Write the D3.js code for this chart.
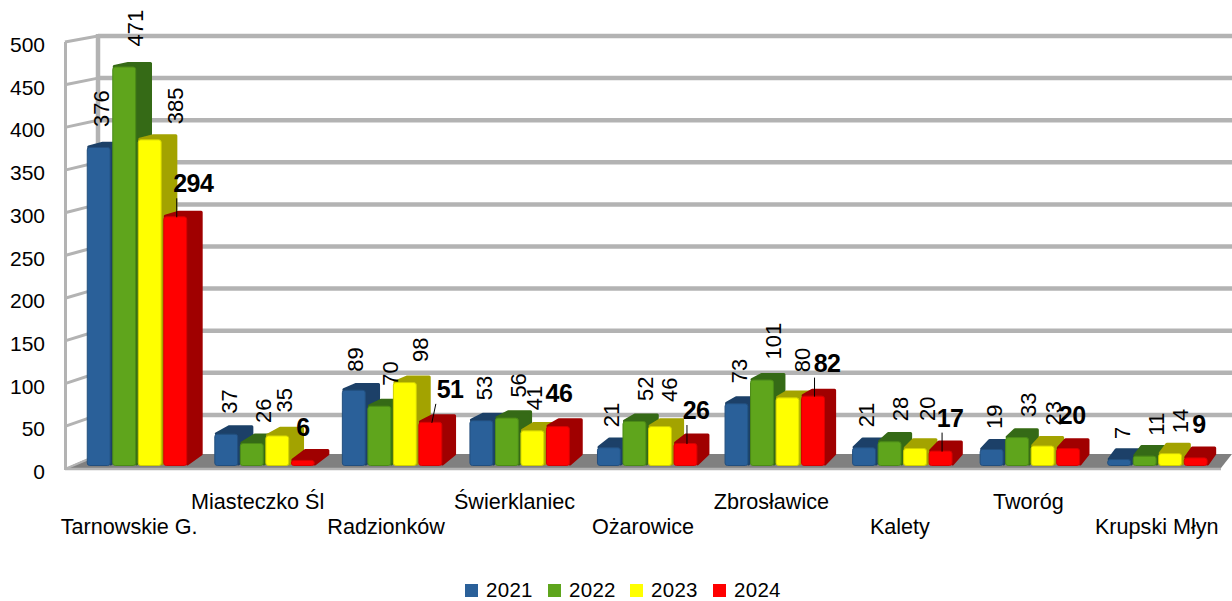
<!DOCTYPE html>
<html><head><meta charset="utf-8">
<script src="https://cdn.jsdelivr.net/npm/d3@7"></script>
<style>html,body{margin:0;background:#fff}svg{display:block}text{font-family:"Liberation Sans",Arial,sans-serif;fill:#000}</style>
</head><body><svg id="c" width="1232" height="601"></svg>
<script>
const categories=["Tarnowskie G.","Miasteczko Śl","Radzionków","Świerklaniec","Ożarowice","Zbrosławice","Kalety","Tworóg","Krupski Młyn"];
const years=["2021","2022","2023","2024"];
const v2021=[376,37,89,53,21,73,21,19,7];
const v2022=[471,26,70,56,52,101,28,33,11];
const v2023=[385,35,98,41,46,80,20,23,14];
const v2024=[294,6,51,46,26,82,17,20,9];
const seriesValues=[v2021,v2022,v2023,v2024];
const ticks=[0,50,100,150,200,250,300,350,400,450,500];
const frontColors=["#2a6099","#5ea51d","#ffff00","#ff0000"];
const sideColors=["#1b4067","#366a14","#a3a300","#a00000"];
const edgeColors=["#234f7e","#4c8a18","#d0d000","#d80000"];

// label placement (layout, not data)
const rotNudgeX=[2.5,11,10];
const rotExceptions={"0|2":[15,5],"1|2":[-3,-3],"2|0":[-1,2],"2|2":[5,0],"3|2":[-8.5,0],"4|2":[-1,-4],"5|2":[5,-5],"6|2":[2,-7]};
const boldNudgeX=[18,0,19.6,1,10.5,14,9.4,4,3.3];
const leaderTilt=[0,0,4,0,0,0,0,0,0];

const svg=d3.select("#c");
const defs=svg.append("defs");
defs.append("filter").attr("id","soft").attr("x","-5%").attr("y","-5%").attr("width","110%").attr("height","110%")
  .append("feGaussianBlur").attr("stdDeviation",0.6);
defs.append("filter").attr("id","soft2").attr("x","-5%").attr("y","-5%").attr("width","110%").attr("height","110%")
  .append("feGaussianBlur").attr("stdDeviation",0.5);

const yAxisScale=d3.scaleLinear().domain([0,500]).range([471,44]);
const yFront=d3.scaleLinear().domain([0,500]).range([469,42]);
const yBack=d3.scaleLinear().domain([0,500]).range([457,36]);
const yBar=d3.scaleLinear().domain([0,500]).range([465,42]);
const xBand=d3.scaleBand().domain(categories).range([74,1222]).paddingInner(0.2).paddingOuter(0.1);
const xSer=d3.scaleBand().domain(years).range([0,xBand.bandwidth()]);
const xLabel=d3.scaleBand().domain(categories).range([65,1221]);
const depthX=d3.scaleLinear().domain([87,1190]).range([16,8.5]);
const depthY=d3.scaleLinear().domain([0,50,100,500]).range([11,7,6,4]);
const grid="#b3b3b3";

// walls
const walls=svg.append("g").attr("filter","url(#soft2)");
walls.selectAll(".g").data(ticks.filter(t=>t>0)).join("line").attr("class","g")
  .attr("x1",98).attr("x2",1232).attr("y1",d=>yBack(d)).attr("y2",d=>yBack(d))
  .attr("stroke",grid).attr("stroke-width",4.5);
walls.selectAll(".s").data(ticks.filter(t=>t>0)).join("line").attr("class","s")
  .attr("x1",65).attr("x2",98).attr("y1",d=>yFront(d)).attr("y2",d=>yBack(d))
  .attr("stroke",grid).attr("stroke-width",3);
walls.append("line").attr("x1",98).attr("x2",98).attr("y1",yBack(500)-2).attr("y2",yBack(0)).attr("stroke",grid).attr("stroke-width",4.5);
walls.append("line").attr("x1",65.5).attr("x2",65.5).attr("y1",yFront(500)).attr("y2",yFront(0)+1).attr("stroke",grid).attr("stroke-width",3);
walls.append("path").attr("fill","#808080")
  .attr("d",d3.line()([[66,468],[98,454],[1232,454],[1221,468]]));
walls.append("line").attr("x1",65).attr("x2",1221).attr("y1",469).attr("y2",469).attr("stroke",grid).attr("stroke-width",2.5);
walls.append("line").attr("x1",65).attr("x2",98).attr("y1",469).attr("y2",455).attr("stroke",grid).attr("stroke-width",2);

// bars
const barsG=svg.append("g").attr("filter","url(#soft)");
const w=xSer.step()-1.6;
categories.forEach((c,i)=>{
  years.forEach((yr,s)=>{
    const v=seriesValues[s][i];
    const x=xBand(c)+xSer(yr), y=yBar(v), y0=yBar(0);
    const dx=depthX(x), dy=depthY(v), dy0=depthY(0);
    const g=barsG.append("g");
    g.append("path").attr("fill",sideColors[s]).attr("stroke",sideColors[s]).attr("stroke-width",3).attr("stroke-linejoin","round")
      .attr("d",d3.line()([[x+2,y],[x+dx,y-dy+1],[x+w+dx-1.5,y-dy+1],[x+w+dx-1.5,y0-dy0],[x+w,y0-1]])+"Z");
    g.append("rect").attr("x",x+0.5).attr("y",y+0.5).attr("width",w-1).attr("height",y0-y).attr("rx",2.5)
      .attr("fill",frontColors[s]).attr("stroke",edgeColors[s]).attr("stroke-width",1);
  });
});

// axis
const axis=d3.axisLeft(yAxisScale).tickValues(ticks).tickSize(0).tickPadding(0);
const axG=svg.append("g").attr("transform","translate(45,0)").call(axis);
axG.select(".domain").remove();
axG.selectAll("text").attr("font-size",21).attr("text-anchor","end").style("font-family",'"Liberation Sans"').attr("dy",".36em");

// value labels
categories.forEach((c,i)=>{
  [0,1,2].forEach(s=>{
    const v=seriesValues[s][i], yr=years[s];
    const cx=xBand(c)+xSer(yr)+w/2;
    const ex=rotExceptions[i+"|"+s]||[0,0];
    svg.append("text").attr("transform",`translate(${cx+rotNudgeX[s]+ex[0]},${yBar(v)-20+ex[1]}) rotate(-90)`)
      .attr("font-size",22).attr("dy",".36em").text(v);
  });
  const v=v2024[i];
  const cx=xBand(c)+xSer("2024")+w/2, n=boldNudgeX[i];
  svg.append("text").attr("x",cx+n).attr("y",yBar(v)-33).attr("dy",".36em").attr("text-anchor","middle")
    .attr("font-size",25).attr("font-weight","bold").attr("letter-spacing",-0.6).text(v);
  if(n>5){
    svg.append("line").attr("x1",cx+1.5+leaderTilt[i]).attr("x2",cx+1.5).attr("y1",yBar(v)-18).attr("y2",yBar(v)+1)
      .attr("stroke","#000").attr("stroke-width",1);
  }
});

// category labels
categories.forEach((c,i)=>{
  svg.append("text").attr("x",xLabel(c)+xLabel.bandwidth()/2).attr("y",i%2?509:534)
    .attr("text-anchor","middle").attr("font-size",21.6).text(c);
});

// legend
const legendX=d3.scaleOrdinal().domain(years).range([465,548,630,713]);
const lg=svg.append("g");
years.forEach((yr,s)=>{
  lg.append("rect").attr("x",legendX(yr)).attr("y",584).attr("width",13).attr("height",13).attr("fill",frontColors[s]);
  lg.append("text").attr("x",legendX(yr)+21).attr("y",596.5).attr("font-size",20.5).attr("letter-spacing",0.3).text(yr);
});
</script></body></html>
